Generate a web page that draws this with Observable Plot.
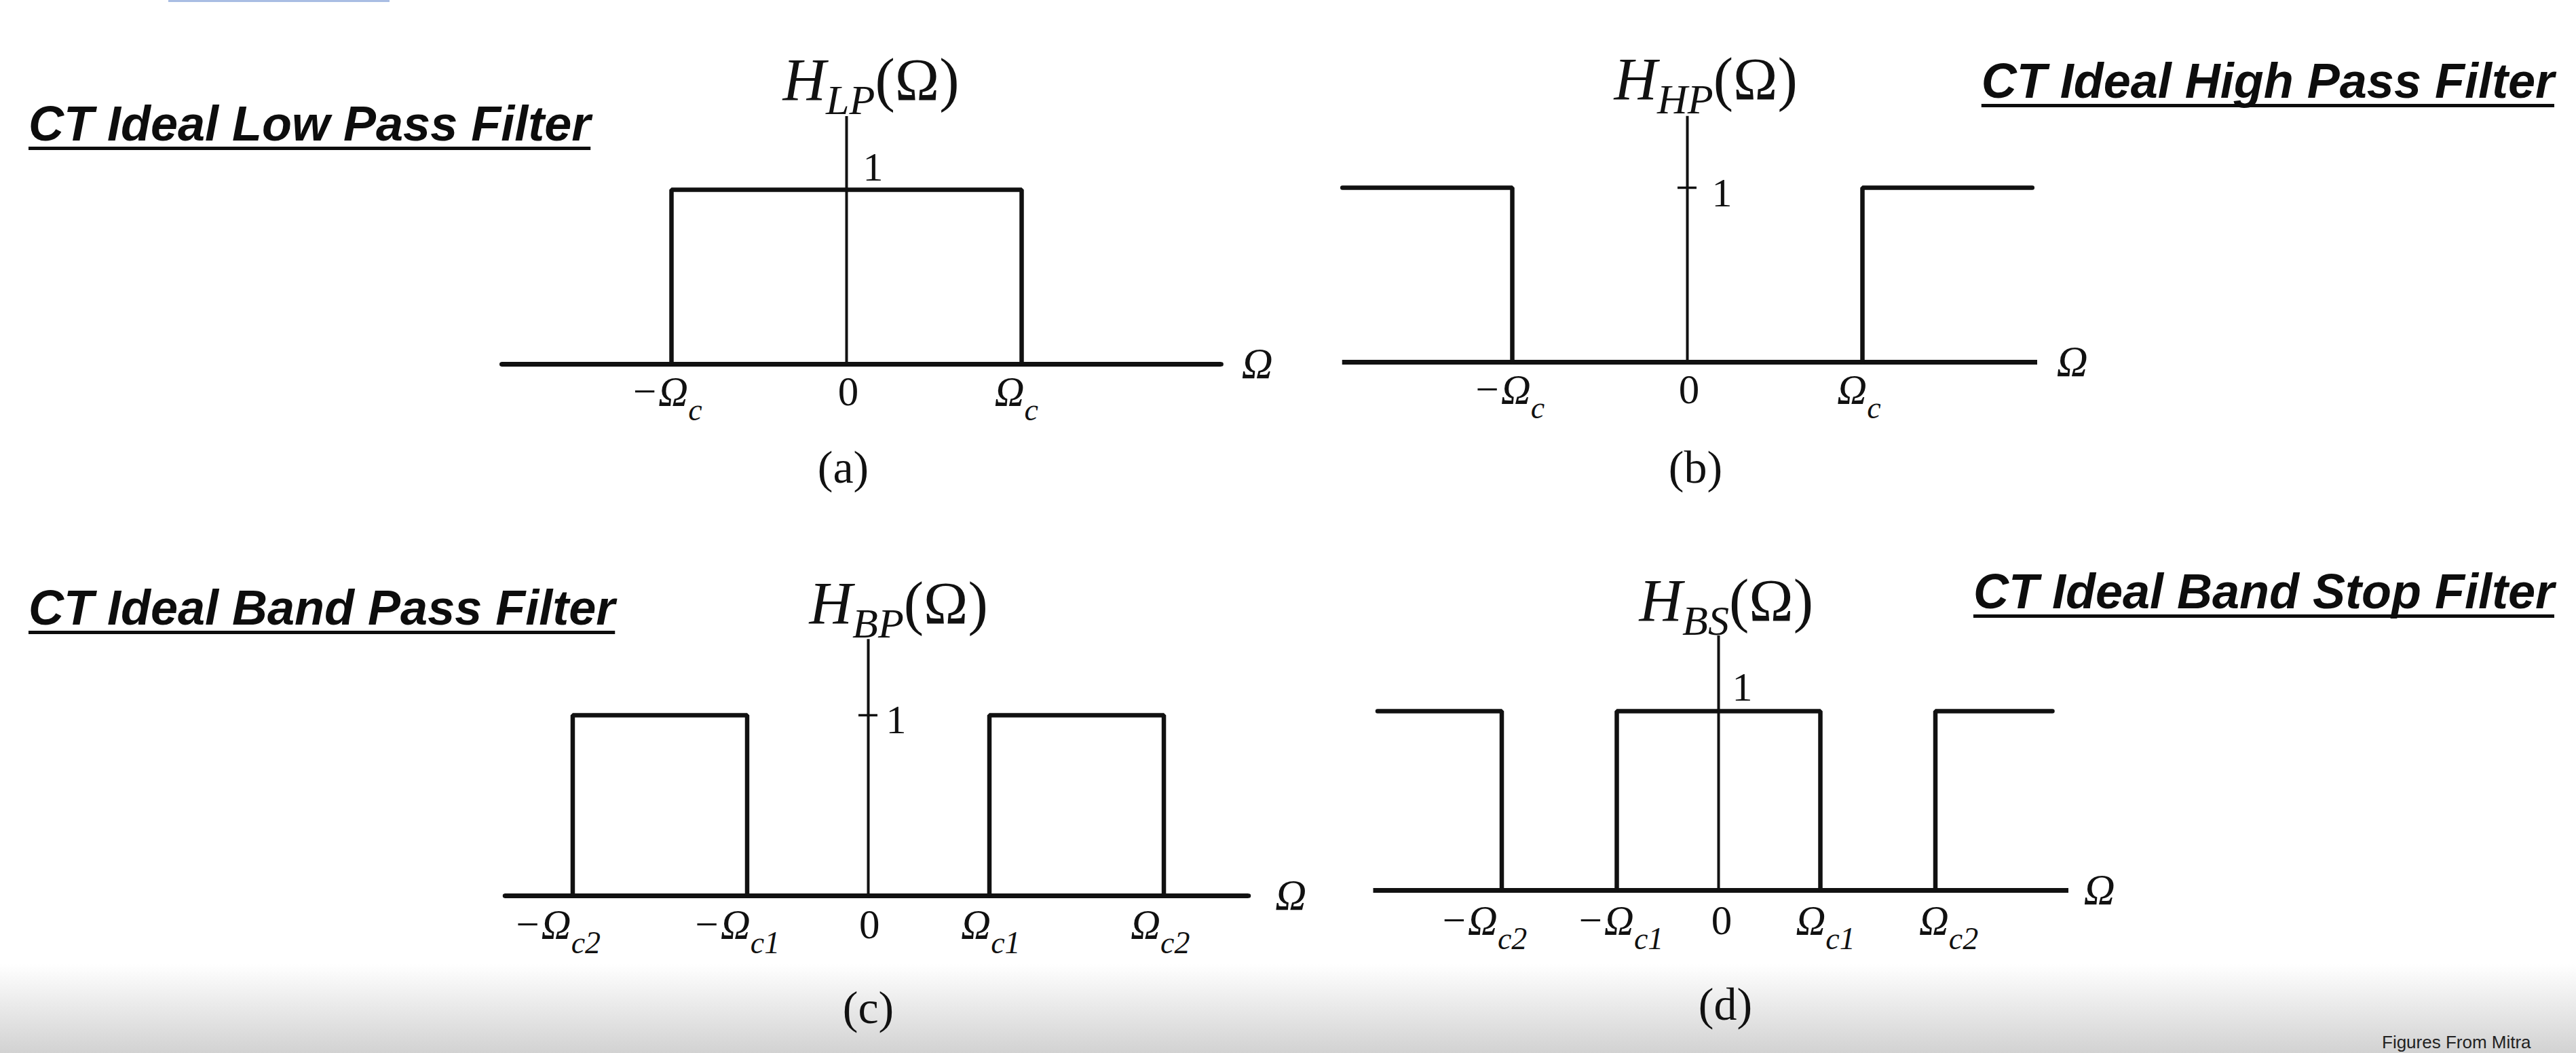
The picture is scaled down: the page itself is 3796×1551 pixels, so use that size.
<!DOCTYPE html>
<html>
<head>
<meta charset="utf-8">
<script src="https://cdn.jsdelivr.net/npm/d3@7"></script>
<script src="https://cdn.jsdelivr.net/npm/@observablehq/plot@0.6"></script>
<style>
  html, body { margin: 0; padding: 0; width: 3796px; height: 1551px; overflow: hidden; background: #fff; }
  #stage { position: relative; width: 3796px; height: 1551px; }
  .fade { position: absolute; left: 0; top: 1420px; width: 3796px; height: 131px;
          background: linear-gradient(to bottom, #ffffff, #d2d2d2); }
  .topline { position: absolute; left: 248px; top: 0; width: 326px; height: 3px; background: #a9bde3; }
  .title { position: absolute; font-family: "Liberation Sans", Arial, sans-serif; font-weight: bold;
           font-style: italic; font-size: 72px; line-height: 72px; color: #0d0d0d; white-space: nowrap;
           text-decoration: underline; text-decoration-thickness: 5px; text-underline-offset: 9px;
           text-decoration-skip-ink: none; }
  .credit { position: absolute; left: 3510px; top: 1522px; font-family: "Liberation Sans", Arial, sans-serif;
            font-size: 26px; line-height: 26px; color: #222; white-space: nowrap; }
  .panel { position: absolute; width: 1898px; height: 775px; }
  .panel svg { overflow: visible; }
</style>
</head>
<body>
<div id="stage">
  <div class="fade"></div>
  <div class="topline"></div>
</div>
<script>
// ---------------- data ----------------
// Frequency breakpoints (in units of the cutoff) and gain of each ideal filter
const lpOmega = [-1.97, -1, -1, 1, 1, 2.14];
const lpGain  = [0, 0, 1, 1, 0, 0];
const lpTickAt = [-1.03, 0.01, 0.97];
const lpTickLabels = ["−Ω_{c}", "0", "Ω_{c}"];

const hpOmega = [-1.97, -1, -1, 1, 1, 1.97];
const hpGain  = [1, 1, 0, 0, 1, 1];
const hpTickAt = [-1.02, 0.01, 0.98];
const hpTickLabels = ["−Ω_{c}", "0", "Ω_{c}"];

const bpOmega = [-3.0, -2.44, -2.44, -1, -1, 1, 1, 2.44, 2.44, 3.14];
const bpGain  = [0, 0, 1, 1, 0, 0, 1, 1, 0, 0];
const bpTickAt = [-2.57, -1.09, 0.01, 1.01, 2.41];
const bpTickLabels = ["−Ω_{c2}", "−Ω_{c1}", "0", "Ω_{c1}", "Ω_{c2}"];

const bsOmega = [-3.35, -2.13, -2.13, -1, -1, 1, 1, 2.13, 2.13, 3.28];
const bsGain  = [1, 1, 0, 0, 1, 1, 0, 0, 1, 1];
const bsTickAt = [-2.31, -0.97, 0.03, 1.05, 2.26];
const bsTickLabels = ["−Ω_{c2}", "−Ω_{c1}", "0", "Ω_{c1}", "Ω_{c2}"];

const unitGain = [1];
const yLabels = ["H_{LP}(Ω)", "H_{HP}(Ω)", "H_{BP}(Ω)", "H_{BS}(Ω)"];
const xLabel = "Ω";
const captions = ["(a)", "(b)", "(c)", "(d)"];
const titles = ["CT Ideal Low Pass Filter", "CT Ideal High Pass Filter",
                "CT Ideal Band Pass Filter", "CT Ideal Band Stop Filter"];
const credit = "Figures From Mitra";

// ---------------- layout (pixels) ----------------
const INK = "#111";
const SERIF = "'Liberation Serif', 'Times New Roman', serif";
const layouts = [
  {ox: 0,    oy: 0,   cx: 1247, u: 258,   axisY: 536,  oneY: 279,  axis: [-1.97, 2.14], yTop: 1.42,
   tick: false, oneDx: 24, oneDy: -14, oneAnchor: "bottom", hDx: -94, hDy: -25, omDx: 30, capDx: -5, capDy: 174, tickDy: 60},
  {ox: 1898, oy: 0,   cx: 2486, u: 258,   axisY: 533,  oneY: 276,  axis: [-1.97, 2.0], yTop: 1.41,
   tick: true, oneDx: 36, oneDy: 8, oneAnchor: "middle", hDx: -108, hDy: -25, omDx: 28, capDx: 12, capDy: 177, tickDy: 60},
  {ox: 0,    oy: 775, cx: 1279, u: 178.5, axisY: 1319, oneY: 1053, axis: [-3.0, 3.14], yTop: 1.42,
   tick: true, oneDx: 26, oneDy: 7, oneAnchor: "middle", hDx: -87, hDy: -24, omDx: 39, capDx: 0, capDy: 187, tickDy: 62},
  {ox: 1898, oy: 775, cx: 2532, u: 150,   axisY: 1311, oneY: 1047, axis: [-3.39, 3.44], yTop: 1.42,
   tick: false, oneDx: 20, oneDy: -16, oneAnchor: "bottom", hDx: -117, hDy: -23, omDx: 22, capDx: 10, capDy: 190, tickDy: 64}
];
const titlePos = [
  {left: 42, top: 146}, {right: 32, top: 83}, {left: 42, top: 859}, {right: 32, top: 835}
];

const series = [
  {omega: lpOmega, gain: lpGain, tickAt: lpTickAt, tickLabels: lpTickLabels},
  {omega: hpOmega, gain: hpGain, tickAt: hpTickAt, tickLabels: hpTickLabels},
  {omega: bpOmega, gain: bpGain, tickAt: bpTickAt, tickLabels: bpTickLabels},
  {omega: bsOmega, gain: bsGain, tickAt: bsTickAt, tickLabels: bsTickLabels}
];

const NS = "http://www.w3.org/2000/svg";
function applySubscripts(svg) {
  svg.querySelectorAll("text").forEach(t => {
    const m = t.textContent.match(/^(.*?)_\{(.*?)\}(.*)$/);
    if (!m) return;
    const isH = m[1] === "H";
    const fs = parseFloat(getComputedStyle(t).fontSize);
    const ratio = isH ? 0.7 : 0.75;
    const shift = Math.round(fs * (isH ? 0.24 : 0.36));
    t.textContent = "";
    const a = document.createElementNS(NS, "tspan");
    a.textContent = m[1];
    const b = document.createElementNS(NS, "tspan");
    b.textContent = m[2];
    b.setAttribute("font-size", Math.round(fs * ratio));
    b.setAttribute("dy", shift);
    t.append(a, b);
    if (m[3]) {
      const c = document.createElementNS(NS, "tspan");
      c.textContent = m[3];
      c.setAttribute("dy", -shift);
      c.setAttribute("font-style", "normal");
      t.append(c);
    }
  });
}

const stage = document.getElementById("stage");

series.forEach((s, i) => {
  const L = layouts[i];
  const steps = s.omega.map((w, k) => ({w, g: s.gain[k]}));
  const ticks = s.tickAt.map((w, k) => ({w, label: s.tickLabels[k]}));
  const marks = [
    Plot.ruleY([0], {x1: L.axis[0], x2: L.axis[1], stroke: INK, strokeWidth: 7}),
    Plot.ruleX([0], {y1: 0, y2: L.yTop, stroke: INK, strokeWidth: 4}),
    Plot.line(steps, {x: "w", y: "g", stroke: INK, strokeWidth: 6.5, strokeLinejoin: "miter"}),
    Plot.text(ticks.filter(d => d.label !== "0"), {x: "w", y: 0, text: "label", lineAnchor: "bottom",
      dy: L.tickDy, fontSize: 61, fontStyle: "italic", fontFamily: SERIF, fill: INK}),
    Plot.text(ticks.filter(d => d.label === "0"), {x: "w", y: 0, text: "label", lineAnchor: "bottom",
      dy: L.tickDy, fontSize: 61, fontFamily: SERIF, fill: INK}),
    Plot.text(unitGain, {x: 0, y: d => d, text: d => String(d), textAnchor: "start", lineAnchor: L.oneAnchor,
      dx: L.oneDx, dy: L.oneDy, fontSize: 60, fontFamily: SERIF, fill: INK}),
    Plot.text([xLabel], {x: L.axis[1], y: 0, text: d => d, textAnchor: "start", lineAnchor: "middle",
      dx: L.omDx, fontSize: 64, fontStyle: "italic", fontFamily: SERIF, fill: INK}),
    Plot.text([yLabels[i]], {x: 0, y: L.yTop, text: d => d, textAnchor: "start", lineAnchor: "bottom",
      dx: L.hDx, dy: L.hDy, fontSize: 88, fontStyle: "italic", fontFamily: SERIF, fill: INK}),
    Plot.text([captions[i]], {x: 0, y: 0, text: d => d, lineAnchor: "bottom",
      dx: L.capDx, dy: L.capDy, fontSize: 68, fontFamily: SERIF, fill: INK})
  ];
  if (L.tick) {
    marks.push(Plot.ruleY(unitGain, {x1: -14 / L.u, x2: 14 / L.u, stroke: INK, strokeWidth: 3.5}));
  }
  const svg = Plot.plot({
    width: 1898, height: 775, margin: 0,
    x: {domain: [0, 1], range: [L.cx - L.ox, L.cx - L.ox + L.u], axis: null},
    y: {domain: [0, 1], range: [L.axisY - L.oy, L.oneY - L.oy], axis: null},
    style: {background: "transparent", overflow: "visible", maxWidth: "none", fontFamily: SERIF},
    marks
  });
  const div = document.createElement("div");
  div.className = "panel";
  div.style.left = L.ox + "px";
  div.style.top = L.oy + "px";
  div.appendChild(svg);
  stage.appendChild(div);
  applySubscripts(svg);

  const t = document.createElement("div");
  t.className = "title";
  t.textContent = titles[i];
  const p = titlePos[i];
  t.style.top = p.top + "px";
  if (p.left !== undefined) t.style.left = p.left + "px"; else t.style.right = p.right + "px";
  stage.appendChild(t);
});

const c = document.createElement("div");
c.className = "credit";
c.textContent = credit;
stage.appendChild(c);
</script>
</body>
</html>
